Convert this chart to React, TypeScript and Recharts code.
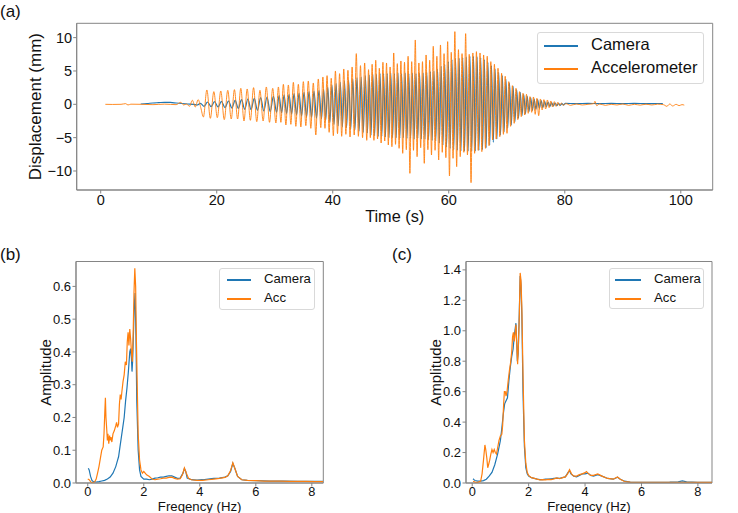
import { LineChart, Line, XAxis, YAxis, ReferenceArea } from "recharts";

const BLUE = "#1f77b4";
const ORANGE = "#ff7f0e";
const FRAME = "#858585";
const INK = "#111";
const FONT = '"Liberation Sans", Arial, sans-serif';

// ---- (a) displacement history -------------------------------------------
const timeTicks = [0, 20, 40, 60, 80, 100];
const dispTicks = [-10, -5, 0, 5, 10];

// quiet parts before and after the sweep: [time (s), displacement (mm)]
const cameraLead = [
  [6.9, 0.05], [8, 0.12], [9, 0.2], [10, 0.25], [11, 0.3], [12, 0.28],
  [13, 0.2], [14, 0.12], [15, 0.05], [16, 0.0], [16.6, -0.1], [17.2, 0.15],
];
const accLead = [
  [0.8, 0], [2, -0.02], [3.5, 0], [4.3, 0.1], [4.7, -0.1], [5.2, 0.02], [7, 0],
  [9, -0.05], [11, 0.03], [13, -0.05], [13.8, 0.3], [14.3, -0.1], [14.8, 0.05],
  [15.3, -0.3], [15.8, 0.6], [16.3, -0.4], [16.8, 0.7], [17.25, -0.5],
];
const cameraTail = [
  [80.1, 0.15], [82, 0.1], [84, 0.15], [86, 0.1], [88, 0.15], [90, 0.1],
  [92, 0.15], [94, 0.1], [96, 0.12], [96.9, 0.1],
];
const accTail = [
  [80.2, 0.1], [81, -0.15], [82, 0.05], [83, -0.1], [84, 0.0], [85, 0.1],
  [85.2, 0.45], [85.5, -0.2], [86, 0.05], [87, -0.15], [88, 0.0], [89, -0.1],
  [90, 0.05], [91, -0.15], [92, 0], [93, -0.12], [94, 0.02], [95, -0.1],
  [96, 0.02], [97, -0.05], [97.6, -0.3], [98.1, 0.05], [98.6, -0.25],
  [99.2, 0.0], [99.7, -0.2], [100.2, -0.05], [100.6, -0.12],
];

// sweep: peak / trough values per stretch, half a cycle apart
const sweepStart = 17.7;
const sweepHalfCycles = [0.6, 0.55, 0.43, 0.36, 0.31, 0.3];
// the camera track runs slightly behind the accelerometer
const cameraLag = 0.12;

const cameraSwing = [
  [-0.3, 0.35, -0.35, 0.4, -0.4, 0.45, -0.5, 0.5, -0.55],
  [0.6, -0.6, 0.7, -0.75, 0.8, -0.8, 0.9, -0.9, 1.0, -1.0, 1.1, -1.1, 1.2, -1.2],
  [1.3, -1.3, 1.4, -1.4, 1.5, -1.5, 1.6, -1.6, 1.7, -1.8, 1.8, -1.9, 1.9, -2.0, 2.0, -2.1, 2.1, -2.2],
  [2.3, -2.4, 2.6, -2.7, 2.9, -3.0, 3.1, -3.2, 3.3, -3.4, 3.5, -3.5, 3.6, -3.7, 3.8, -3.8, 4.0, -4.0, 4.1, -4.2, 4.3, -4.3],
  [
    4.4, -4.6, 4.5, -4.7, 4.5, -4.8, 4.6, -4.8, 4.6, -4.9,
    4.6, -5.0, 4.7, -5.0, 4.6, -5.0, 4.7, -5.1, 4.6, -5.0,
    4.7, -5.1, 4.6, -5.1, 4.7, -5.2, 4.6, -5.1, 4.7, -5.2,
    4.7, -5.2, 4.8, -5.3, 4.9, -5.4, 5.0, -5.5, 5.3, -5.8,
    5.7, -6.1, 6.0, -6.4, 6.4, -6.6, 6.7, -6.8, 6.9, -6.9,
    6.9, -7.0, 7.0, -7.0, 7.1, -7.0, 7.2, -7.0, 7.2, -7.0,
    7.1, -6.9, 7.0, -6.8, 6.7, -6.5, 6.3, -6.1, 5.8, -5.7,
    5.3, -5.2, 4.8, -4.6, 4.3, -4.1, 3.8, -3.6, 3.2, -3.1,
    2.7, -2.6, 2.2, -2.1,
  ],
  [1.8, -1.7, 1.5, -1.4, 1.2, -1.1, 1.0, -0.9, 0.8, -0.75, 0.7, -0.6, 0.55, -0.5, 0.45, -0.4, 0.35, -0.3, 0.25, -0.25, 0.2, -0.2, 0.15, -0.15, 0.1, -0.1],
];

const accSwing = [
  [-1.9, 2.15, -2.1, 1.9, -2.0, 2.0, -2.3, 2.1, -2.2],
  [2.2, -2.2, 2.4, -2.5, 2.3, -2.4, 2.5, -2.6, 2.1, -2.5, 2.6, -2.7, 2.4, -2.8],
  [2.6, -2.7, 3.0, -3.1, 2.9, -3.0, 3.3, -3.3, 3.0, -3.4, 3.4, -3.2, 3.5, -3.6, 3.2, -4.6, 3.8, -3.5],
  [4.1, -3.6, 4.3, -4.2, 3.9, -4.7, 5.0, -4.4, 4.6, -4.8, 5.3, -4.5, 5.1, -4.9, 5.6, -4.6, 7.6, -4.8, 5.8, -5.0, 6.2, -5.4],
  [
    5.2, -5.0, 6.0, -5.4, 6.6, -5.2, 5.4, -5.8, 6.3, -5.5,
    6.2, -6.1, 5.6, -6.35, 7.7, -6.0, 6.1, -6.6, 6.5, -7.35,
    6.3, -6.8, 7.2, -10.35, 6.4, -6.9, 9.65, -7.85, 6.2, -6.5,
    6.4, -8.85, 7.4, -6.8, 6.6, -7.6, 8.7, -6.9, 7.2, -8.35,
    8.9, -7.2, 7.6, -8.0, 9.4, -10.75, 7.8, -8.1, 10.9, -9.35,
    8.2, -7.85, 7.6, -7.2, 10.6, -7.6, 7.5, -11.75, 7.7, -7.35,
    7.9, -6.9, 7.7, -7.1, 7.4, -6.6, 7.2, -6.2, 6.4, -5.35,
    6.0, -5.2, 5.4, -4.85, 4.65, -4.5, 4.2, -4.35, 3.4, -3.3,
    2.8, -2.85, 2.4, -2.3,
  ],
  [1.9, -1.85, 1.65, -1.6, 1.5, -1.35, 1.15, -1.2, 1.1, -1.5, 0.9, -1.7, 0.8, -0.85, 0.7, -0.7, 0.65, -0.5, 0.5, -0.4, 0.4, -0.3, 0.3, -0.2, 0.2, -0.15],
];

// ---- (b) / (c) amplitude spectra: [frequency (Hz), amplitude] -------------
const freqTicks = [0, 2, 4, 6, 8];
const ampTicksB = [0, 0.1, 0.2, 0.3, 0.4, 0.5, 0.6];
const ampTicksC = [0, 0.2, 0.4, 0.6, 0.8, 1.0, 1.2, 1.4];

const cameraSpecB = [
  [0.02, 0.045], [0.05, 0.04], [0.1, 0.02], [0.15, 0.008], [0.2, 0.004], [0.3, 0.003],
  [0.4, 0.004], [0.5, 0.006], [0.6, 0.008], [0.7, 0.012], [0.8, 0.018], [0.9, 0.03],
  [1.0, 0.05], [1.05, 0.065], [1.1, 0.08], [1.15, 0.11], [1.2, 0.14], [1.25, 0.17],
  [1.3, 0.2], [1.35, 0.25], [1.4, 0.29], [1.45, 0.34], [1.5, 0.4], [1.53, 0.41],
  [1.56, 0.38], [1.58, 0.34], [1.6, 0.37], [1.63, 0.45], [1.66, 0.54], [1.69, 0.58],
  [1.72, 0.45], [1.75, 0.25], [1.8, 0.1], [1.85, 0.04], [1.9, 0.02], [2.0, 0.012],
  [2.1, 0.012], [2.2, 0.01], [2.3, 0.012], [2.4, 0.015], [2.5, 0.016], [2.6, 0.018],
  [2.7, 0.018], [2.8, 0.02], [2.9, 0.022], [3.0, 0.022], [3.1, 0.018], [3.2, 0.014],
  [3.3, 0.015], [3.4, 0.03], [3.45, 0.044], [3.5, 0.035], [3.55, 0.015], [3.7, 0.01],
  [3.9, 0.009], [4.1, 0.01], [4.3, 0.012], [4.5, 0.014], [4.7, 0.015], [4.9, 0.018],
  [5.0, 0.022], [5.1, 0.035], [5.18, 0.06], [5.25, 0.045], [5.35, 0.02], [5.5, 0.01],
  [5.7, 0.008], [6.0, 0.007], [6.5, 0.006], [7.0, 0.006], [7.5, 0.005], [8.0, 0.005],
  [8.4, 0.005],
];
const accSpecB = [
  [0.0, 0.012], [0.05, 0.01], [0.1, 0.004], [0.15, 0.001], [0.2, 0.001], [0.25, 0.004],
  [0.3, 0.012], [0.35, 0.03], [0.4, 0.05], [0.45, 0.075], [0.5, 0.1], [0.55, 0.11],
  [0.58, 0.15], [0.61, 0.22], [0.63, 0.26], [0.65, 0.2], [0.68, 0.16], [0.7, 0.13],
  [0.72, 0.15], [0.75, 0.12], [0.78, 0.145], [0.8, 0.13], [0.83, 0.14], [0.86, 0.125],
  [0.9, 0.15], [0.95, 0.16], [1.0, 0.175], [1.03, 0.185], [1.06, 0.17], [1.1, 0.18],
  [1.13, 0.24], [1.16, 0.27], [1.19, 0.255], [1.22, 0.28], [1.26, 0.31], [1.3, 0.33],
  [1.34, 0.37], [1.38, 0.36], [1.41, 0.43], [1.44, 0.46], [1.47, 0.42], [1.5, 0.47],
  [1.53, 0.44], [1.56, 0.4], [1.59, 0.37], [1.62, 0.45], [1.65, 0.58], [1.68, 0.655],
  [1.71, 0.6], [1.74, 0.42], [1.77, 0.28], [1.8, 0.15], [1.85, 0.07], [1.9, 0.04],
  [1.95, 0.03], [2.0, 0.035], [2.05, 0.03], [2.1, 0.025], [2.2, 0.02], [2.3, 0.012],
  [2.4, 0.01], [2.5, 0.012], [2.6, 0.013], [2.7, 0.015], [2.8, 0.015], [2.9, 0.017],
  [3.0, 0.018], [3.1, 0.014], [3.2, 0.012], [3.3, 0.013], [3.38, 0.025], [3.45, 0.046],
  [3.52, 0.03], [3.6, 0.014], [3.7, 0.01], [3.9, 0.008], [4.1, 0.008], [4.3, 0.01],
  [4.5, 0.012], [4.7, 0.014], [4.9, 0.017], [5.0, 0.022], [5.1, 0.038], [5.18, 0.062],
  [5.25, 0.045], [5.35, 0.02], [5.5, 0.01], [5.7, 0.008], [6.0, 0.007], [6.3, 0.006],
  [6.6, 0.006], [6.9, 0.006], [7.2, 0.005], [7.5, 0.005], [7.8, 0.005], [8.1, 0.004],
  [8.4, 0.004],
];

const cameraSpecC = [
  [0.03, 0.028], [0.06, 0.022], [0.1, 0.016], [0.2, 0.012], [0.3, 0.012], [0.4, 0.016],
  [0.5, 0.025], [0.6, 0.045], [0.7, 0.07], [0.8, 0.12], [0.9, 0.19], [1.0, 0.28],
  [1.05, 0.36], [1.1, 0.45], [1.15, 0.52], [1.2, 0.54], [1.25, 0.56], [1.3, 0.67],
  [1.35, 0.76], [1.4, 0.83], [1.45, 0.88], [1.5, 0.98], [1.55, 1.05], [1.58, 0.92],
  [1.6, 0.8], [1.63, 0.85], [1.66, 1.05], [1.7, 1.36], [1.73, 1.3], [1.76, 1.1],
  [1.8, 0.6], [1.85, 0.24], [1.9, 0.1], [1.95, 0.06], [2.0, 0.045], [2.1, 0.035],
  [2.2, 0.03], [2.3, 0.025], [2.4, 0.022], [2.5, 0.022], [2.6, 0.025], [2.7, 0.025],
  [2.8, 0.028], [2.9, 0.03], [3.0, 0.032], [3.1, 0.03], [3.2, 0.035], [3.3, 0.04],
  [3.4, 0.07], [3.45, 0.08], [3.5, 0.06], [3.6, 0.045], [3.7, 0.04], [3.8, 0.05],
  [3.9, 0.06], [4.0, 0.06], [4.1, 0.065], [4.2, 0.05], [4.3, 0.045], [4.45, 0.055],
  [4.6, 0.045], [4.8, 0.03], [5.0, 0.025], [5.15, 0.038], [5.25, 0.025], [5.4, 0.012],
  [5.6, 0.006], [6.0, 0.005], [6.5, 0.005], [7.0, 0.006], [7.3, 0.008], [7.45, 0.014],
  [7.6, 0.008], [8.0, 0.005], [8.5, 0.005],
];
const accSpecC = [
  [0.03, 0.012], [0.1, 0.006], [0.2, 0.004], [0.3, 0.012], [0.35, 0.06], [0.4, 0.15],
  [0.45, 0.25], [0.48, 0.22], [0.52, 0.16], [0.55, 0.1], [0.58, 0.12], [0.62, 0.15],
  [0.66, 0.19], [0.7, 0.22], [0.74, 0.2], [0.78, 0.22], [0.82, 0.2], [0.86, 0.19],
  [0.9, 0.23], [0.95, 0.28], [1.0, 0.31], [1.05, 0.32], [1.08, 0.38], [1.11, 0.5],
  [1.14, 0.6], [1.17, 0.6], [1.2, 0.57], [1.24, 0.61], [1.28, 0.68], [1.32, 0.74],
  [1.36, 0.79], [1.4, 0.86], [1.43, 0.96], [1.46, 0.99], [1.49, 0.93], [1.52, 0.98],
  [1.55, 1.04], [1.58, 0.9], [1.61, 0.78], [1.64, 0.92], [1.67, 1.1], [1.7, 1.38],
  [1.73, 1.33], [1.76, 1.15], [1.8, 0.72], [1.85, 0.28], [1.9, 0.13], [1.95, 0.07],
  [2.0, 0.05], [2.1, 0.035], [2.2, 0.03], [2.3, 0.025], [2.4, 0.02], [2.5, 0.022],
  [2.6, 0.02], [2.7, 0.024], [2.8, 0.022], [2.9, 0.027], [3.0, 0.033], [3.1, 0.028],
  [3.2, 0.035], [3.3, 0.04], [3.38, 0.06], [3.45, 0.087], [3.52, 0.06], [3.6, 0.045],
  [3.7, 0.045], [3.8, 0.055], [3.9, 0.06], [4.0, 0.068], [4.05, 0.075], [4.1, 0.065],
  [4.2, 0.05], [4.3, 0.05], [4.45, 0.06], [4.6, 0.045], [4.8, 0.03], [5.0, 0.025],
  [5.15, 0.04], [5.25, 0.025], [5.4, 0.01], [5.6, 0.006], [6.0, 0.005], [6.5, 0.005],
  [7.0, 0.005], [7.5, 0.005], [8.0, 0.004], [8.5, 0.004],
];

type Pt = { x: number; y: number };

const toPts = (pairs: number[][]): Pt[] => pairs.map(([x, y]) => ({ x, y }));

// lead-in, then the swing extremes half a cycle apart, then the tail
function sweepSeries(lead: number[][], swing: number[][], tail: number[][], lag = 0): Pt[] {
  const pts = toPts(lead);
  let t = sweepStart - sweepHalfCycles[0];
  swing.forEach((stretch, i) =>
    stretch.forEach((v) => {
      t += sweepHalfCycles[i];
      pts.push({ x: +(t + lag).toFixed(3), y: v });
    })
  );
  return pts.concat(toPts(tail));
}

const cameraHistory = sweepSeries(cameraLead, cameraSwing, cameraTail, cameraLag);
const accHistory = sweepSeries(accLead, accSwing, accTail);

const minusSign = (v: number) => String(v).replace("-", "\u2212");

function AxisTitle(props: any) {
  const { at, text, size, vertical } = props;
  const [x, y] = at;
  return (
    <text
      x={x}
      y={y}
      transform={vertical ? `rotate(-90 ${x} ${y})` : undefined}
      textAnchor="middle"
      fontSize={size}
      fontFamily={FONT}
      fill={INK}
    >
      {text}
    </text>
  );
}

function Key({ left, top, width, height, size, swatch, textX, rows }: any) {
  return (
    <div
      style={{
        position: "absolute",
        left,
        top,
        width,
        height,
        boxSizing: "border-box",
        border: "1px solid #d9d9d9",
        borderRadius: 3,
        background: "rgba(255,255,255,0.85)",
        fontFamily: FONT,
        fontSize: size,
        color: INK,
      }}
    >
      {rows.map((r: any) => (
        <div key={r.label}>
          <div
            style={{
              position: "absolute",
              left: swatch[0],
              width: swatch[1] - swatch[0],
              top: r.y - 1,
              height: 1.5,
              background: r.color,
            }}
          />
          <div style={{ position: "absolute", left: textX, top: r.y - size * 0.58, lineHeight: 1 }}>
            {r.label}
          </div>
        </div>
      ))}
    </div>
  );
}

const axisStroke = { stroke: FRAME, strokeWidth: 1 };

function Spectrum({ left, width, yWidth, xDomain, yMax, ticks, camera, acc, titleX }: any) {
  return (
    <div style={{ position: "absolute", left, top: 240 }}>
      <LineChart width={width} height={276} margin={{ top: 21.5, right: 26, bottom: 3, left: 0 }}>
        <XAxis
          type="number"
          dataKey="x"
          domain={xDomain}
          ticks={freqTicks}
          allowDataOverflow
          height={30}
          tickSize={3.5}
          tickMargin={0}
          axisLine={axisStroke}
          tickLine={axisStroke}
          tick={{ fontSize: 12.8, fill: INK, fontFamily: FONT }}
          label={<AxisTitle at={[yWidth + (width - 26 - yWidth) / 2, 270.8]} text="Freqency (Hz)" size={13.2} />}
        />
        <YAxis
          type="number"
          domain={[0, yMax]}
          ticks={ticks}
          allowDataOverflow
          width={yWidth}
          tickSize={3.5}
          tickMargin={1.5}
          tickFormatter={(v: number) => v.toFixed(1)}
          axisLine={axisStroke}
          tickLine={axisStroke}
          tick={{ fontSize: 13, fill: INK, fontFamily: FONT }}
          label={<AxisTitle at={[titleX, 21.5 + 221.8 / 2]} text="Amplitude" size={15} vertical />}
        />
        <ReferenceArea x1={xDomain[0]} x2={xDomain[1]} y1={0} y2={yMax} fill="none" stroke={FRAME} strokeWidth={1} />
        <Line data={camera} dataKey="y" type="linear" stroke={BLUE} strokeWidth={1.2} dot={false} isAnimationActive={false} />
        <Line data={acc} dataKey="y" type="linear" stroke={ORANGE} strokeWidth={1.2} dot={false} isAnimationActive={false} />
      </LineChart>
    </div>
  );
}

export default function App() {
  return (
    <div style={{ position: "absolute", left: 0, top: 0, width: 738, height: 513, background: "#fff", fontFamily: FONT, overflow: "hidden" }}>
      <div style={{ position: "absolute", left: 0, top: 0 }}>
        <LineChart width={738} height={230} margin={{ top: 23.3, right: 25.3, bottom: 0, left: 0 }}>
          <XAxis
            type="number"
            dataKey="x"
            domain={[-4.14, 105.5]}
            ticks={timeTicks}
            allowDataOverflow
            height={40}
            tickSize={3.5}
            tickMargin={1.5}
            axisLine={axisStroke}
            tickLine={axisStroke}
            tick={{ fontSize: 14.5, fill: INK, fontFamily: FONT }}
            label={<AxisTitle at={[394.7, 221.7]} text="Time (s)" size={16.3} />}
          />
          <YAxis
            type="number"
            domain={[-12.85, 12.15]}
            ticks={dispTicks}
            allowDataOverflow
            width={76.7}
            tickSize={3.5}
            tickMargin={1}
            tickFormatter={minusSign}
            axisLine={axisStroke}
            tickLine={axisStroke}
            tick={{ fontSize: 14.5, fill: INK, fontFamily: FONT }}
            label={<AxisTitle at={[41.5, 106.7]} text="Displacement (mm)" size={17} vertical />}
          />
          <ReferenceArea x1={-4.14} x2={105.5} y1={-12.85} y2={12.15} fill="none" stroke={FRAME} strokeWidth={1} />
          <Line data={cameraHistory} dataKey="y" type="monotone" stroke={BLUE} strokeWidth={1.2} dot={false} isAnimationActive={false} />
          <Line data={accHistory} dataKey="y" type="monotone" stroke={ORANGE} strokeWidth={1} strokeOpacity={0.9} dot={false} isAnimationActive={false} />
        </LineChart>
      </div>
      <Key
        left={537}
        top={32}
        width={167}
        height={52}
        size={16.5}
        swatch={[6, 40]}
        textX={53}
        rows={[
          { label: "Camera", color: BLUE, y: 13 },
          { label: "Accelerometer", color: ORANGE, y: 36 },
        ]}
      />

      <Spectrum
        left={0}
        width={349.3}
        yWidth={76}
        xDomain={[-0.42, 8.41]}
        yMax={0.676}
        ticks={ampTicksB}
        camera={toPts(cameraSpecB)}
        acc={toPts(accSpecB)}
        titleX={51.5}
      />
      <Key
        left={219}
        top={268}
        width={96}
        height={42}
        size={13.2}
        swatch={[7, 31]}
        textX={44}
        rows={[
          { label: "Camera", color: BLUE, y: 11 },
          { label: "Acc", color: ORANGE, y: 30 },
        ]}
      />

      <Spectrum
        left={370}
        width={368}
        yWidth={96}
        xDomain={[-0.22, 8.5]}
        yMax={1.455}
        ticks={ampTicksC}
        camera={toPts(cameraSpecC)}
        acc={toPts(accSpecC)}
        titleX={70.7}
      />
      <Key
        left={609}
        top={268}
        width={95}
        height={41}
        size={13.2}
        swatch={[5, 31]}
        textX={44}
        rows={[
          { label: "Camera", color: BLUE, y: 11 },
          { label: "Acc", color: ORANGE, y: 30 },
        ]}
      />

      <div style={{ position: "absolute", left: 0, top: 2, fontSize: 17, color: INK }}>(a)</div>
      <div style={{ position: "absolute", left: 0, top: 245, fontSize: 17, color: INK }}>(b)</div>
      <div style={{ position: "absolute", left: 392, top: 245, fontSize: 17, color: INK }}>(c)</div>
    </div>
  );
}
